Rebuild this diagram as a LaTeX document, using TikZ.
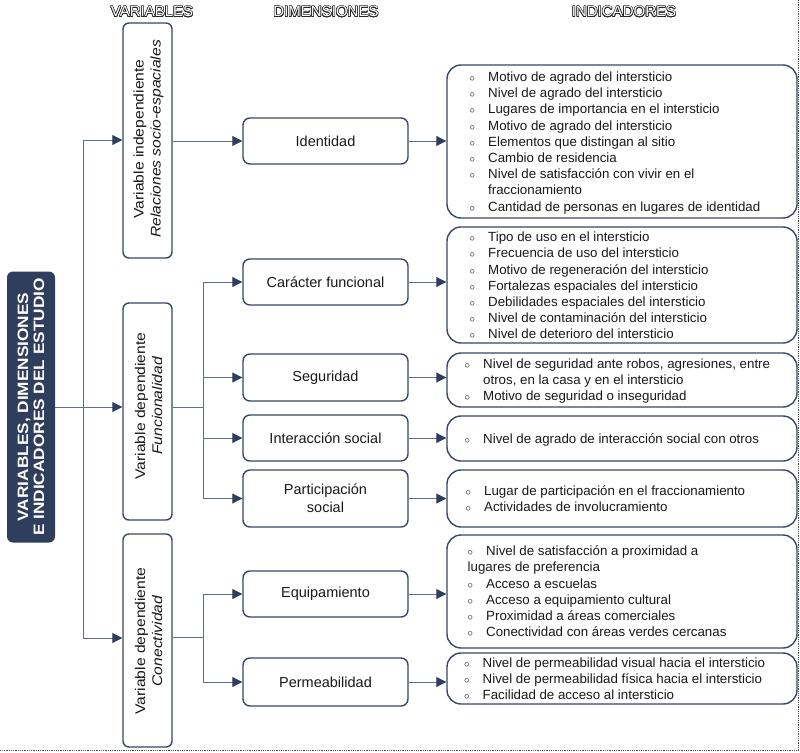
\documentclass[tikz,border=0pt]{standalone}
\usepackage{fontspec}
\setmainfont{Liberation Sans}
\usepackage{graphicx}
\usepackage{contour}
\contourlength{0.55pt}
\usetikzlibrary{arrows.meta}
\definecolor{navy}{RGB}{47,62,92}
\definecolor{edgec}{RGB}{58,72,100}
\definecolor{connc}{RGB}{96,110,136}
\definecolor{txt}{RGB}{25,25,25}
\newcommand{\bl}{\scalebox{0.75}{$\circ$}}
\newcommand{\hdrtext}[1]{\contour{black!85}{\textcolor{white}{#1}}}
\tikzset{
 varbox/.style={draw=edgec, line width=1.4pt, rounded corners=6pt, minimum width=49pt, inner sep=0pt},
 vartext/.style={rotate=90, align=center, inner sep=0pt, font=\fontsize{14}{17}\selectfont, text=txt},
 dimbox/.style={draw=edgec, line width=1.4pt, rounded corners=7pt, minimum width=165pt, align=center,
   font=\fontsize{14.5}{18}\selectfont, text=txt, inner sep=0pt},
 indbox/.style={draw=edgec, line width=1.4pt, rounded corners=14pt, minimum width=350pt, inner sep=0pt},
 indtext/.style={anchor=west, inner sep=0pt, font=\fontsize{13.3}{16.2}\selectfont, text=txt},
 conn/.style={draw=connc, line width=0.9pt},
 arr/.style={conn, -{Triangle[length=10pt,width=10pt,color=navy]}},
 hdr/.style={font=\fontsize{15}{15}\selectfont, inner sep=0pt}
}
\begin{document}
\begin{tikzpicture}[x=1pt,y=-1pt]
\useasboundingbox (0,0) rectangle (800,752);
\fill[white] (0,0) rectangle (800,752);
\draw[densely dotted, line width=0.8pt, black!70] (798.5,0) -- (798.5,750.5) -- (0,750.5);

% headers
\node[hdr] (h1) at (152,12) {\hdrtext{VARIABLES}};
\node[hdr] (h2) at (326,12) {\hdrtext{DIMENSIONES}};
\node[hdr] (h3) at (624,12) {\hdrtext{INDICADORES}};

% main box
\node[fill=navy, rounded corners=6pt, minimum width=48pt, minimum height=271pt, inner sep=0pt] (main) at (31,407) {};
\node[rotate=90, align=center, inner sep=0pt, text=white, font=\fontsize{15}{16}\selectfont\bfseries] (maint) at (main.center)
  {\scalebox{1.15}[1]{VARIABLES, DIMENSIONES}\\\scalebox{1.15}[1]{E INDICADORES DEL ESTUDIO}};

% variable boxes
\node[varbox, minimum height=235pt] (v1) at (147.5,140.5) {};
\node[vartext] (v1t) at (148.5,139) {\scalebox{1.12}[1]{Variable independiente}\\\scalebox{1.12}[1]{\itshape Relaciones socio-espaciales}};
\node[varbox, minimum height=217pt] (v2) at (147.5,411.5) {};
\node[vartext] (v2t) at (148.5,406) {\scalebox{1.12}[1]{Variable dependiente}\\\scalebox{1.12}[1]{\itshape Funcionalidad}};
\node[varbox, minimum height=213pt] (v3) at (147.5,640.5) {};
\node[vartext] (v3t) at (148.5,641) {\scalebox{1.12}[1]{Variable dependiente}\\\scalebox{1.12}[1]{\itshape Conectividad}};

% dimension boxes
\node[dimbox, minimum height=46pt] (d1) at (325.5,141) {Identidad};
\node[dimbox, minimum height=46pt] (d2) at (325.5,282) {Carácter funcional};
\node[dimbox, minimum height=47pt] (d3) at (325.5,377.5) {Seguridad};
\node[dimbox, minimum height=46pt] (d4) at (325.5,438) {Interacción social};
\node[dimbox, minimum height=57pt] (d5) at (325.5,498.5) {Participación\\social};
\node[dimbox, minimum height=46pt] (d6) at (325.5,594) {Equipamiento};
\node[dimbox, minimum height=48pt] (d7) at (325.5,682) {Permeabilidad};

% indicator boxes
\node[indbox, minimum height=153pt] (i1) at (622,141.5) {};
\node[indbox, minimum height=116pt] (i2) at (622,285) {};
\node[indbox, minimum height=54pt] (i3) at (622,380) {};
\node[indbox, minimum height=45pt] (i4) at (622,438.5) {};
\node[indbox, minimum height=57pt] (i5) at (622,498.5) {};
\node[indbox, minimum height=113pt] (i6) at (622,591.5) {};
\node[indbox, minimum height=51pt] (i7) at (622,678.5) {};

\node[indtext] (i1t) at (469.5,143) {\begin{tabular}{@{}p{18.5pt}@{}l@{}}
\bl & Motivo de agrado del intersticio\\
\bl & Nivel de agrado del intersticio\\
\bl & Lugares de importancia en el intersticio\\
\bl & Motivo de agrado del intersticio\\
\bl & Elementos que distingan al sitio\\
\bl & Cambio de residencia\\
\bl & Nivel de satisfacción con vivir en el\\
    & fraccionamiento\\
\bl & Cantidad de personas en lugares de identidad
\end{tabular}};
\node[indtext] (i2t) at (469.5,287) {\begin{tabular}{@{}p{18.5pt}@{}l@{}}
\bl & Tipo de uso en el intersticio\\
\bl & Frecuencia de uso del intersticio\\
\bl & Motivo de regeneración del intersticio\\
\bl & Fortalezas espaciales del intersticio\\
\bl & Debilidades espaciales del intersticio\\
\bl & Nivel de contaminación del intersticio\\
\bl & Nivel de deterioro del intersticio
\end{tabular}};
\node[indtext] (i3t) at (464.5,381.5) {\begin{tabular}{@{}p{18.5pt}@{}l@{}}
\bl & Nivel de seguridad ante robos, agresiones, entre\\
    & otros, en la casa y en el intersticio\\
\bl & Motivo de seguridad o inseguridad
\end{tabular}};
\node[indtext] (i4t) at (464.5,440) {\begin{tabular}{@{}p{18.5pt}@{}l@{}}
\bl & Nivel de agrado de interacción social con otros
\end{tabular}};
\node[indtext] (i5t) at (465.5,500) {\begin{tabular}{@{}p{18.5pt}@{}l@{}}
\bl & Lugar de participación en el fraccionamiento\\
\bl & Actividades de involucramiento
\end{tabular}};
\node[indtext] (i6t) at (467.5,593) {\begin{tabular}{@{}p{18.5pt}@{}l@{}}
\bl & Nivel de satisfacción a proximidad a\\
\multicolumn{2}{@{}l@{}}{lugares de preferencia}\\
\bl & Acceso a escuelas\\
\bl & Acceso a equipamiento cultural\\
\bl & Proximidad a áreas comerciales\\
\bl & Conectividad con áreas verdes cercanas
\end{tabular}};
\node[indtext] (i7t) at (464,680) {\begin{tabular}{@{}p{18.5pt}@{}l@{}}
\bl & Nivel de permeabilidad visual hacia el intersticio\\
\bl & Nivel de permeabilidad física hacia el intersticio\\
\bl & Facilidad de acceso al intersticio
\end{tabular}};

% connectors: main -> variables
\coordinate (t1) at (83,140);
\coordinate (t3) at (83,638);
\draw[conn] (t1) -- (t3);
\draw[arr] (t1) -- (v1.west |- t1);
\draw[arr] (t3) -- (v3.west |- t3);
\draw[arr] (main.east) -- (v2.west |- main.east);

% variables -> dimensions
\draw[arr] (v1.east |- d1) -- (d1.west);
\coordinate (b2) at (203,407);
\draw[conn] (v2.east |- b2) -- (b2);
\draw[conn] (b2 |- d2) -- (b2 |- d5);
\draw[arr] (b2 |- d2) -- (d2.west);
\draw[arr] (b2 |- d3) -- (d3.west);
\draw[arr] (b2 |- d4) -- (d4.west);
\draw[arr] (b2 |- d5) -- (d5.west);
\coordinate (b3) at (203,637);
\draw[conn] (v3.east |- b3) -- (b3);
\draw[conn] (b3 |- d6) -- (b3 |- d7);
\draw[arr] (b3 |- d6) -- (d6.west);
\draw[arr] (b3 |- d7) -- (d7.west);

% dimensions -> indicators
\draw[arr] (d1.east) -- (i1.west |- d1.east);
\draw[arr] (d2.east) -- (i2.west |- d2.east);
\draw[arr] (d3.east) -- (i3.west |- d3.east);
\draw[arr] (d4.east) -- (i4.west |- d4.east);
\draw[arr] (d5.east) -- (i5.west |- d5.east);
\draw[arr] (d6.east) -- (i6.west |- d6.east);
\draw[arr] (d7.east) -- (i7.west |- d7.east);
\end{tikzpicture}
\end{document}
